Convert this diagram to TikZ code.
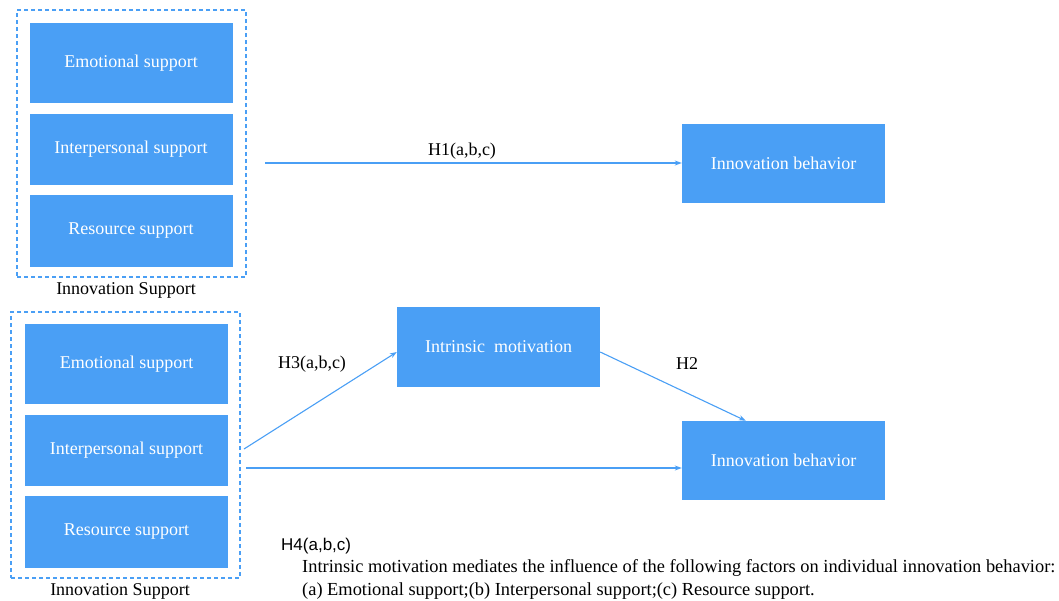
\documentclass[tikz,border=0pt]{standalone}
\usepackage{fontspec}
\setmainfont{Liberation Serif}
\setsansfont{Liberation Sans}
\usetikzlibrary{arrows.meta,calc}
\definecolor{bblue}{RGB}{74,159,245}
\begin{document}
\begin{tikzpicture}[x=1pt,y=-1pt,
  box/.style={fill=bblue,draw=none,text=white,inner sep=0pt,minimum width=203pt,font=\fontsize{18}{20}\selectfont},
  grp/.style={draw=bblue,line width=1.6pt,dash pattern=on 4pt off 3pt,inner sep=0pt,minimum width=229pt},
  lbl/.style={text=black,inner sep=0pt,font=\fontsize{18}{20}\selectfont},
  note/.style={inner sep=0pt,anchor=base west,font=\fontsize{18.4}{22}\selectfont},
  arr/.style={draw=bblue,line width=1.1pt,-{Stealth[length=7pt,width=5pt]}}]
\useasboundingbox (0,0) rectangle (1059,600);
% top group
\node[grp,minimum height=267pt] (g1) at (131.5,143.5) {};
\node[box,minimum height=80pt] (e1) at (131,63) {Emotional support};
\node[box,minimum height=71pt] (i1) at (131,149.5) {Interpersonal support};
\node[box,minimum height=72pt] (r1) at (131,231) {Resource support};
\node[lbl] (l1) at (126,290) {Innovation Support};
\node[box,minimum height=79pt] (ib1) at (783.5,163) {Innovation behavior};
\coordinate (h1s) at (265,163);
\draw[arr] (h1s) -- (h1s -| ib1.west);
\node[lbl] (h1) at (462,151) {H1(a,b,c)};
% bottom group
\node[grp,minimum height=266pt] (g2) at (125.5,445) {};
\node[box,minimum height=80pt] (e2) at (126.5,364) {Emotional support};
\node[box,minimum height=71pt] (i2) at (126.5,450.5) {Interpersonal support};
\node[box,minimum height=72pt] (r2) at (126.5,532) {Resource support};
\node[lbl] (l2) at (120,591) {Innovation Support};
\node[box,minimum height=80pt] (im) at (498.5,347) {Intrinsic\ \ motivation};
\node[box,minimum height=79pt] (ib2) at (783.5,460.5) {Innovation behavior};
\coordinate (h3s) at (244,449);
\coordinate (ds) at (246,468);
\draw[arr] (h3s) -- ($(im.west)+(0,5)$);
\draw[arr] (ds) -- (ds -| ib2.west);
\draw[arr] ($(im.east)+(0,5)$) -- ($(ib2.north west)+(64,0)$);
\node[lbl] (h3) at (312,364) {H3(a,b,c)};
\node[lbl] (h2) at (687,364) {H2};
% H4 note
\node[inner sep=0pt,anchor=base west,font=\sffamily\fontsize{17}{19}\selectfont] (h4) at (281,550) {H4(a,b,c)};
\node[note] (n1) at (302,572) {Intrinsic motivation mediates the influence of the following factors on individual innovation behavior:};
\node[note] (n2) at (302,595) {(a) Emotional support;(b) Interpersonal support;(c) Resource support.};
\end{tikzpicture}
\end{document}
